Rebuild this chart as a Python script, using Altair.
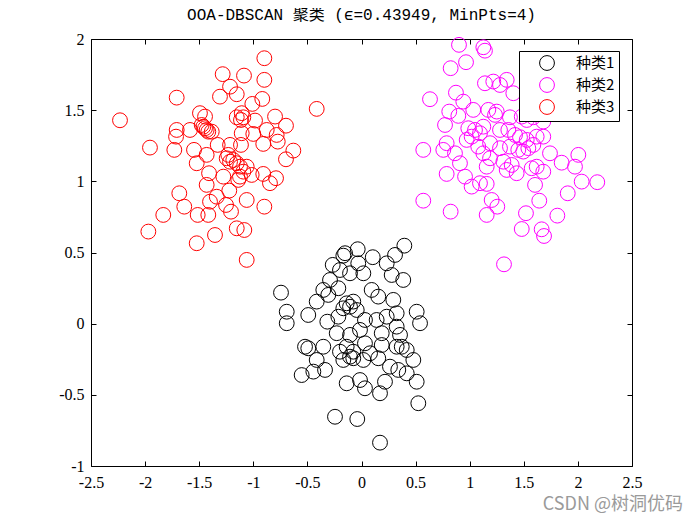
import altair as alt
import pandas as pd

title_text = "OOA-DBSCAN 聚类 (ϵ=0.43949, MinPts=4)"
categories = ["种类1", "种类2", "种类3"]
colors = ["#000000", "#ff00ff", "#ff0000"]
x_ticks = [-2.5, -2, -1.5, -1, -0.5, 0, 0.5, 1, 1.5, 2, 2.5]
y_ticks = [-1, -0.5, 0, 0.5, 1, 1.5, 2]
watermark = "CSDN @树洞优码"

# 种类1 (black)
c1_x = [0.396, -0.035, -0.152, 0.104, -0.168, 0.310, 0.233, -0.266, -0.030, 0.017,
        -0.106, -0.199, 0.279, 0.386, -0.291, -0.353, -0.214, -0.744, 0.094, 0.155,
        0.294, -0.414, -0.307, -0.137, -0.106, -0.076, -0.168, -0.044, -0.691, -0.691,
        -0.492, -0.316, -0.214, 0.032, 0.140, 0.233, 0.325, 0.510, 0.541, -0.229,
        -0.106, -0.014, 0.187, 0.325, 0.356, -0.522, -0.492, -0.353, -0.137, -0.076,
        0.032, 0.079, 0.187, 0.325, 0.372, 0.418, -0.414, -0.445, -0.337, -0.553,
        -0.168, -0.076, 0.017, 0.155, 0.263, 0.340, 0.418, 0.479, -0.137, -0.014,
        0.032, 0.171, 0.217, 0.510, 0.525, -0.245, -0.039, 0.171, -0.199, -0.106]
c1_y = [0.548, 0.523, 0.495, 0.467, 0.478, 0.483, 0.424, 0.413, 0.424, 0.354,
        0.354, 0.377, 0.342, 0.307, 0.307, 0.237, 0.249, 0.218, 0.237, 0.190,
        0.167, 0.155, 0.202, 0.143, 0.119, 0.155, 0.108, 0.096, 0.084, 0.003,
        0.061, 0.014, 0.049, 0.026, 0.026, 0.049, 0.073, 0.084, 0.003, -0.067,
        -0.079, -0.044, -0.067, -0.021, -0.079, -0.162, -0.173, -0.162, -0.162, -0.197,
        -0.138, -0.208, -0.150, -0.162, -0.162, -0.185, -0.255, -0.337, -0.325, -0.361,
        -0.255, -0.243, -0.255, -0.243, -0.302, -0.325, -0.349, -0.255, -0.419, -0.396,
        -0.454, -0.489, -0.408, -0.408, -0.559, -0.654, -0.670, -0.836, -0.197, -0.232]

# 种类2 (magenta)
c2_x = [0.901, 1.126, 1.141, 0.966, 0.824, 0.633, 1.141, 1.218, 1.342, 1.403,
        1.280, 0.873, 0.941, 0.811, 0.895, 1.033, 1.172, 1.250, 1.234, 1.372,
        1.481, 1.527, 1.588, 1.680, 0.772, 0.987, 1.049, 1.095, 1.126, 1.280,
        1.357, 1.419, 1.465, 1.527, 1.619, 1.680, 0.787, 0.756, 0.972, 1.018,
        1.079, 1.188, 1.280, 1.372, 1.449, 1.495, 1.542, 1.588, 0.571, 0.864,
        0.910, 1.126, 1.188, 1.157, 1.311, 1.342, 1.434, 1.388, 1.573, 1.680,
        1.619, 1.742, 1.850, 2.004, 1.973, 0.787, 0.957, 1.018, 1.157, 1.095,
        1.604, 2.035, 2.179, 0.571, 1.203, 1.255, 1.157, 1.643, 1.906, 0.824,
        1.520, 1.481, 1.810, 1.665, 1.687, 1.317]
c2_y = [1.959, 1.942, 1.918, 1.837, 1.795, 1.577, 1.689, 1.701, 1.713, 1.619,
        1.677, 1.623, 1.560, 1.490, 1.460, 1.502, 1.502, 1.490, 1.467, 1.450,
        1.455, 1.431, 1.450, 1.420, 1.396, 1.373, 1.361, 1.338, 1.384, 1.361,
        1.361, 1.326, 1.310, 1.291, 1.314, 1.314, 1.268, 1.221, 1.291, 1.314,
        1.244, 1.268, 1.233, 1.244, 1.221, 1.209, 1.233, 1.256, 1.221, 1.197,
        1.127, 1.197, 1.162, 1.103, 1.138, 1.080, 1.057, 1.115, 1.092, 1.068,
        1.103, 1.197, 1.131, 1.186, 1.103, 1.052, 1.033, 0.963, 0.982, 0.987,
        0.975, 0.998, 0.994, 0.864, 0.869, 0.822, 0.764, 0.864, 0.916, 0.787,
        0.776, 0.665, 0.759, 0.663, 0.616, 0.417]

# 种类3 (red)
c3_x = [-0.898, -1.283, -1.086, -0.898, -1.215, -1.153, -1.308, -1.708, -0.917, -1.009,
        -0.414, -2.232, -1.493, -1.446, -1.153, -1.107, -1.092, -0.984, -0.799, -0.698,
        -1.708, -1.585, -1.462, -1.431, -1.384, -1.107, -1.000, -0.876, -0.784, -1.714,
        -1.955, -1.730, -1.548, -1.329, -1.215, -1.114, -0.908, -0.774, -0.630, -0.698,
        -1.431, -1.523, -1.246, -1.215, -1.153, -1.061, -1.409, -1.277, -1.123, -1.015,
        -0.908, -0.790, -0.846, -1.431, -1.222, -1.684, -1.338, -1.061, -1.400, -1.638,
        -1.252, -0.898, -1.832, -1.514, -1.416, -1.206, -1.970, -1.153, -1.083, -1.354,
        -1.523, -1.061, -1.477, -1.446, -1.416, -1.231, -1.185, -1.123, -1.092, -1.139,
        -1.114]
c3_y = [1.865, 1.753, 1.743, 1.713, 1.665, 1.612, 1.595, 1.588, 1.579, 1.544,
        1.509, 1.429, 1.479, 1.455, 1.450, 1.479, 1.450, 1.427, 1.455, 1.391,
        1.361, 1.361, 1.384, 1.361, 1.349, 1.338, 1.333, 1.361, 1.326, 1.314,
        1.237, 1.221, 1.221, 1.256, 1.256, 1.256, 1.263, 1.279, 1.216, 1.155,
        1.186, 1.127, 1.162, 1.138, 1.127, 1.103, 1.057, 1.033, 1.033, 1.045,
        1.052, 1.022, 0.987, 0.975, 0.935, 0.916, 0.892, 0.869, 0.857, 0.822,
        0.834, 0.822, 0.764, 0.764, 0.764, 0.787, 0.647, 0.670, 0.658, 0.623,
        0.565, 0.448, 1.396, 1.373, 1.349, 1.186, 1.150, 1.103, 1.068, 1.010,
        1.431]

rows = []
for cat, xs, ys in zip(categories, [c1_x, c2_x, c3_x], [c1_y, c2_y, c3_y]):
    for a, b in zip(xs, ys):
        rows.append({"x": a, "y": b, "cls": cat})
df = pd.DataFrame(rows)

W, H = 541, 427
tick_font = "Liberation Serif"
xscale = alt.Scale(domain=[-2.5, 2.5], nice=False, zero=False)
yscale = alt.Scale(domain=[-1, 2], nice=False, zero=False)

label_axis_common = dict(labelExpr="'' + datum.value", ticks=False, tickSize=0, domain=False,
                         grid=False, labelFont=tick_font, labelFontSize=16, labelColor="black",
                         title=None, labelFlush=False, labelOverlap=False)

pts = alt.Chart(df).mark_point(shape="circle", filled=False, size=220, strokeWidth=1, opacity=1).encode(
    x=alt.X("x:Q", scale=xscale,
            axis=alt.Axis(orient="bottom", values=x_ticks, labelPadding=8, **label_axis_common)),
    y=alt.Y("y:Q", scale=yscale,
            axis=alt.Axis(orient="left", values=y_ticks, labelPadding=7, **label_axis_common)),
    color=alt.Color("cls:N", scale=alt.Scale(domain=categories, range=colors),
                    legend=alt.Legend(title=None, orient="none", legendX=428, legendY=12,
                                      padding=4, strokeColor="black", fillColor="white",
                                      symbolType="circle", symbolSize=220, symbolStrokeWidth=1,
                                      labelFont="Noto Sans CJK SC", labelFontSize=15,
                                      labelColor="black", labelOffset=21, symbolOffset=16,
                                      rowPadding=2, cornerRadius=0)),
)

tick_common = dict(labels=False, domain=False, grid=False, ticks=True, tickSize=5,
                   tickColor="black", tickWidth=1, title=None)

ticks_a = alt.Chart(df).mark_point(opacity=0).encode(
    x=alt.X("x:Q", scale=xscale, axis=alt.Axis(orient="top", offset=-H, values=x_ticks, **tick_common)),
    y=alt.Y("y:Q", scale=yscale, axis=alt.Axis(orient="right", offset=-W, values=y_ticks, **tick_common)),
)
ticks_b = alt.Chart(df).mark_point(opacity=0).encode(
    x=alt.X("x:Q", scale=xscale, axis=alt.Axis(orient="bottom", offset=-H, values=x_ticks, **tick_common)),
    y=alt.Y("y:Q", scale=yscale, axis=alt.Axis(orient="left", offset=-W, values=y_ticks, **tick_common)),
)

wm = alt.Chart(pd.DataFrame({"t": [watermark]})).mark_text(
    align="right", baseline="middle", font="Noto Sans CJK SC", fontSize=18, color="#9a9a9a"
).encode(x=alt.value(592), y=alt.value(466), text="t:N")

chart = alt.layer(pts, ticks_a, ticks_b, wm).resolve_axis(
    x="independent", y="independent"
).properties(
    width=W, height=H,
    title=alt.TitleParams(text=title_text, font="Liberation Mono, Noto Sans CJK SC", fontSize=16,
                          fontWeight="normal", color="black", offset=8, anchor="middle"),
    autosize=alt.AutoSizeParams(type="none"),
    padding={"left": 83, "top": 31, "right": 58, "bottom": 50},
).configure_view(stroke="black", strokeWidth=1).configure_legend(strokeWidth=1)

chart.save("out.html", embed_options={"renderer": "svg", "actions": False})
